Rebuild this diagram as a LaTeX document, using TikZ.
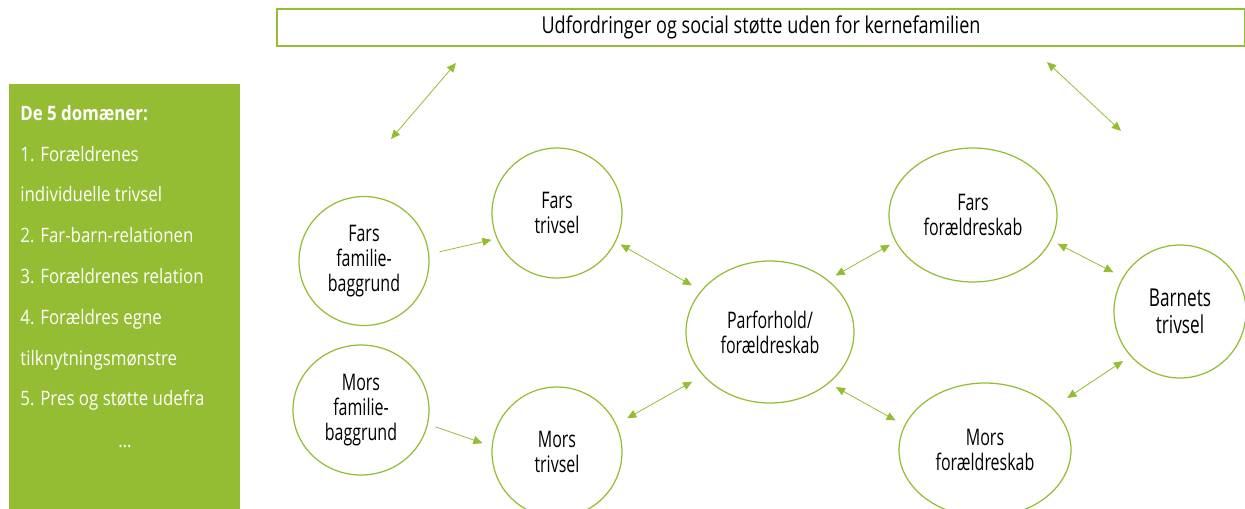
\documentclass[tikz,border=0pt]{standalone}
\usepackage{fontspec}
\setmainfont{Open Sans}[FakeStretch=0.70]
\newfontfamily\topfont{Open Sans}[FakeStretch=0.78]
\newfontfamily\domfont{Open Sans}[FakeStretch=0.85]
\usepackage{tikz}
\usetikzlibrary{positioning}
\usetikzlibrary{arrows.meta}
\usetikzlibrary{shapes.geometric}

\begin{document}
\begin{tikzpicture}[x=0.02cm,y=-0.02cm,
	bubble/.style={ellipse,draw=lgreen,line width=0.7pt,inner sep=0pt,align=center,font=\fontsize{13}{14.2}\selectfont},
	link/.style={lgreen,line width=0.45pt,{Triangle[length=5.2pt,width=4.6pt]}-{Triangle[length=5.2pt,width=4.6pt]}},
	onelink/.style={lgreen,line width=0.45pt,-{Triangle[length=5.2pt,width=4.6pt]}}]
	\definecolor{lgreen}{rgb}{0.58,0.74,0.2}
	\definecolor{boxgreen}{rgb}{0.58,0.74,0.2}

	\clip (0,0) rectangle (1245,508);

	\fill[boxgreen] (9,84) rectangle (240,520);
	\node[anchor=north west,inner sep=0pt,align=left,text=white,font=\domfont\fontsize{11.3}{23.2}\selectfont] (domains) at (20,105)
		{\textbf{De 5 domæner:}\\1. Forældrenes\\individuelle trivsel\\2. Far-barn-relationen\\3. Forældrenes relation\\4. Forældres egne\\tilknytningsmønstre\\5. Pres og støtte udefra};
	\node[text=white,font=\domfont\fontsize{11.3}{12}\selectfont] (more) at (125,446) {…};

	\node[draw=lgreen,line width=0.9pt,minimum width=19.36cm,minimum height=0.74cm,inner sep=0pt,font=\topfont\fontsize{13.2}{15}\selectfont] (outside) at (761,27.5)
		{Udfordringer og social støtte uden for kernefamilien};

	\node[bubble,minimum width=2.6cm,minimum height=2.58cm] (ffam) at (364,261) {Fars\\familie-\\baggrund};
	\node[bubble,minimum width=2.72cm,minimum height=2.6cm] (mfam) at (361,410) {Mors\\familie-\\baggrund};
	\node[bubble,minimum width=2.6cm,minimum height=2.6cm] (ftriv) at (557,213) {Fars\\trivsel};
	\node[bubble,minimum width=2.6cm,minimum height=2.6cm] (mtriv) at (557,452) {Mors\\trivsel};
	\node[bubble,minimum width=3.36cm,minimum height=2.84cm] (par) at (770,332) {Parforhold/\\forældreskab};
	\node[bubble,minimum width=3.36cm,minimum height=2.68cm] (fpar) at (973,215) {Fars\\forældreskab};
	\node[bubble,minimum width=3.44cm,minimum height=2.68cm] (mpar) at (985,450) {Mors\\forældreskab};
	\node[bubble,minimum width=2.64cm,minimum height=2.66cm,font=\fontsize{14}{15.2}\selectfont] (barn) at (1180,311.5) {Barnets\\trivsel};

	\coordinate (tlA) at (456,63);
	\coordinate (tlB) at (391,139);
	\coordinate (trA) at (1047,62);
	\coordinate (trB) at (1121,131);
	\draw[link] (tlB) -- (tlA);
	\draw[link] (trA) -- (trB);

	\draw[onelink,shorten <=6pt,shorten >=3pt] (ffam.6) -- (ftriv.203);
	\draw[onelink,shorten <=4.5pt,shorten >=5.5pt] (mfam.-12) -- (mtriv.175);
	\draw[link,shorten <=3pt,shorten >=6pt] (ftriv.-26) -- (par.149);
	\draw[link,shorten <=7pt,shorten >=7pt] (mtriv.25) -- (par.213);
	\draw[link,shorten <=5pt,shorten >=3.5pt] (par.42) -- (fpar.199);
	\draw[link,shorten <=4.5pt,shorten >=5.7pt] (par.-41) -- (mpar.163);
	\draw[link,shorten <=4pt,shorten >=6pt] (fpar.-18) -- (barn.149);
	\draw[link,shorten <=10pt,shorten >=5pt] (mpar.32) -- (barn.222);
\end{tikzpicture}
\end{document}
